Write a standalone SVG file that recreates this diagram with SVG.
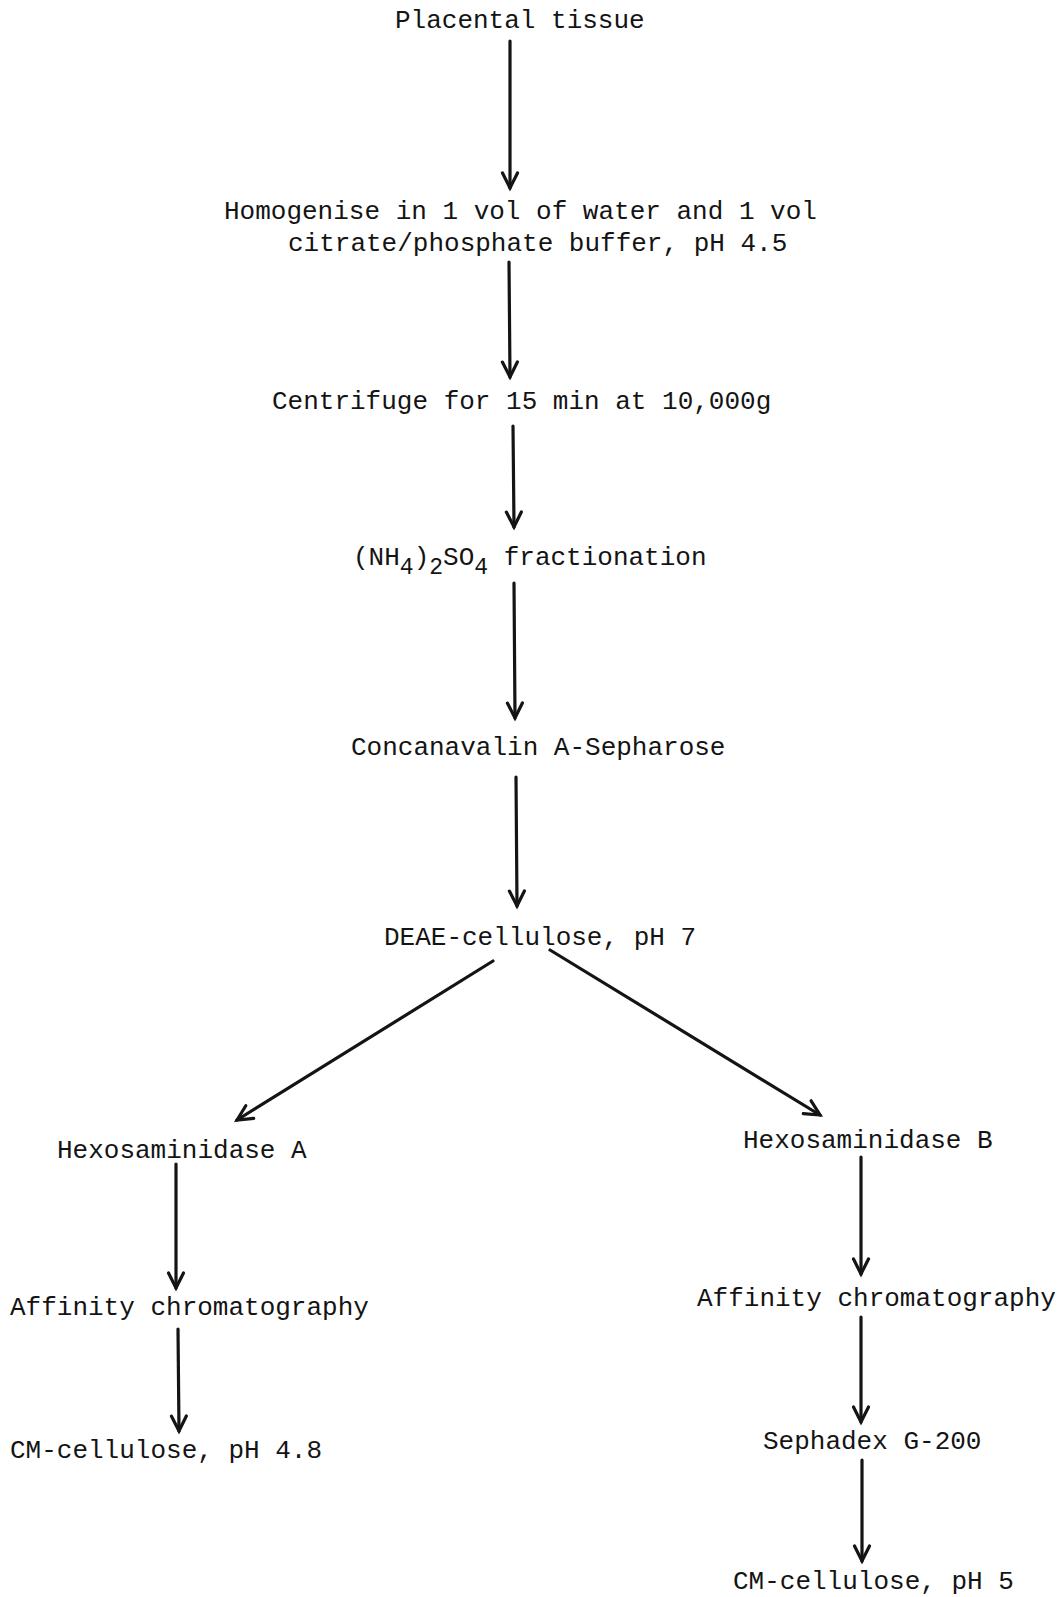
<svg xmlns="http://www.w3.org/2000/svg" width="1064" height="1597" viewBox="0 0 1064 1597">
<style>
text{font-family:"Liberation Mono","DejaVu Sans Mono",monospace;font-size:26px;fill:#141414;}
.c{stroke:#141414;stroke-width:3.2;fill:none;stroke-linecap:round;}
.sub{font-size:23px;}
</style>
<defs>
<marker id="ah" markerUnits="userSpaceOnUse" orient="auto" refX="0" refY="0" markerWidth="30" markerHeight="30" overflow="visible">
<path d="M-15,-7.5 L0,0 L-15,7.5" fill="none" stroke="#141414" stroke-width="3.2" stroke-linecap="round" stroke-linejoin="miter"/>
</marker>
</defs>
<rect width="1064" height="1597" fill="#ffffff"/>
<g id="n1"><text x="395" y="28">Placental tissue</text></g>
<g id="n2"><text x="224" y="219">Homogenise in 1 vol of water and 1 vol</text><text x="288" y="251">citrate/phosphate buffer, pH 4.5</text></g>
<g id="n3"><text x="272" y="409">Centrifuge for 15 min at 10,000g</text></g>
<g id="n4"><text x="353" y="565">(NH<tspan class="sub" dy="9">4</tspan><tspan dy="-9">)</tspan><tspan class="sub" dy="9">2</tspan><tspan dy="-9">SO</tspan><tspan class="sub" dy="9">4</tspan><tspan dy="-9"> fractionation</tspan></text></g>
<g id="n5"><text x="351" y="755">Concanavalin A-Sepharose</text></g>
<g id="n6"><text x="384" y="945">DEAE-cellulose, pH 7</text></g>
<g id="n7"><text x="57" y="1158">Hexosaminidase A</text></g>
<g id="n8"><text x="10" y="1315">Affinity chromatography</text></g>
<g id="n9"><text x="10" y="1458">CM-cellulose, pH 4.8</text></g>
<g id="n10"><text x="743" y="1148">Hexosaminidase B</text></g>
<g id="n11"><text x="697" y="1306">Affinity chromatography</text></g>
<g id="n12"><text x="763" y="1449">Sephadex G-200</text></g>
<g id="n13"><text x="733" y="1589">CM-cellulose, pH 5</text></g>
<g id="connectors">
<line class="c" x1="510" y1="41" x2="510" y2="188" marker-end="url(#ah)"/>
<line class="c" x1="509" y1="262" x2="510" y2="377" marker-end="url(#ah)"/>
<line class="c" x1="513" y1="426" x2="514" y2="527" marker-end="url(#ah)"/>
<line class="c" x1="514" y1="583" x2="515" y2="718" marker-end="url(#ah)"/>
<line class="c" x1="516" y1="777" x2="517" y2="906" marker-end="url(#ah)"/>
<line class="c" x1="493" y1="961" x2="237" y2="1120" marker-end="url(#ah)"/>
<line class="c" x1="550" y1="950" x2="820" y2="1115" marker-end="url(#ah)"/>
<line class="c" x1="176" y1="1164" x2="176" y2="1288" marker-end="url(#ah)"/>
<line class="c" x1="178" y1="1329" x2="179" y2="1431" marker-end="url(#ah)"/>
<line class="c" x1="861" y1="1157" x2="861" y2="1274" marker-end="url(#ah)"/>
<line class="c" x1="861" y1="1317" x2="861" y2="1422" marker-end="url(#ah)"/>
<line class="c" x1="862" y1="1460" x2="862" y2="1561" marker-end="url(#ah)"/>
</g>
</svg>
